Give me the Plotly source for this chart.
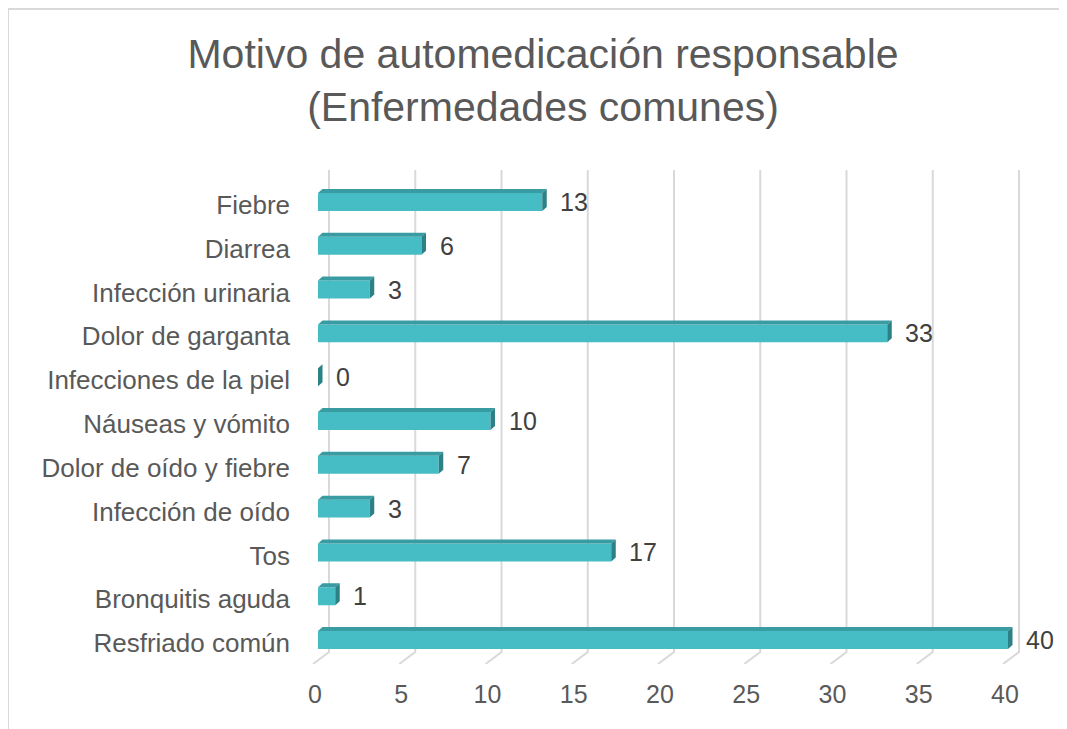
import plotly.graph_objects as go

# ---- data ----
categories = ["Fiebre", "Diarrea", "Infección urinaria", "Dolor de garganta",
              "Infecciones de la piel", "Náuseas y vómito", "Dolor de oído y fiebre",
              "Infección de oído", "Tos", "Bronquitis aguda", "Resfriado común"]
values = [13, 6, 3, 33, 0, 10, 7, 3, 17, 1, 40]
x_ticks = [0, 5, 10, 15, 20, 25, 30, 35, 40]
title_text = "Motivo de automedicación responsable<br>(Enfermedades comunes)"

# ---- geometry / style (screen px; page has an 8px body margin) ----
OFF = 8
W, H = 1067 - OFF, 729 - OFF
PX = 17.25            # pixels per unit
X0F = 318             # front plane zero (px)
X0B = 329             # back plane zero (px)
GRID_TOP, FLOOR_BACK, FLOOR_FRONT = 170, 652, 664
BAR_TOP, BAR_BOT = 180, 662
FONT = "Liberation Sans, Arial, sans-serif"
TXT = "#595959"
FRONT = "#46BCC5"
TOPC = "#3A9CA3"
SIDE = "#2C8187"
GRID = "#D9D9D9"

def fx(p):
    return (p - OFF) / W

def fy(p):
    return 1 - (p - OFF) / H

n = len(categories)
pos = [n - 1 - i for i in range(n)]
slot_px = (BAR_BOT - BAR_TOP) / n
half = 0.205
dx = 4.5 / PX
dy = 4.0 / slot_px

fig = go.Figure()

# gridlines with floor ticks (back plane)
gx, gy = [], []
top_u = FLOOR_FRONT - GRID_TOP
back_u = FLOOR_FRONT - FLOOR_BACK
for t in x_ticks:
    gx += [t, t, t - 16 / PX, None]
    gy += [top_u, back_u, 0, None]
fig.add_trace(go.Scatter(x=gx, y=gy, mode="lines", line=dict(color=GRID, width=2),
                         xaxis="x", yaxis="y", hoverinfo="skip", showlegend=False))

# front faces
fig.add_trace(go.Bar(x=values, y=pos, orientation="h", width=2 * half,
                     marker=dict(color=FRONT, line=dict(width=0)),
                     xaxis="x2", yaxis="y2", showlegend=False, hoverinfo="x+y"))

# top faces and side faces
tx, ty, sx, sy = [], [], [], []
for v, k in zip(values, pos):
    if v > 0:
        tx += [0, v, v + dx, dx, 0, None]
        ty += [k + half, k + half, k + half + dy, k + half + dy, k + half, None]
    sx += [v, v + dx, v + dx, v, v, None]
    sy += [k + half, k + half + dy, k - half + dy, k - half, k + half, None]
fig.add_trace(go.Scatter(x=tx, y=ty, mode="lines", fill="toself", fillcolor=TOPC,
                         line=dict(width=0, color=TOPC), xaxis="x2", yaxis="y2",
                         hoverinfo="skip", showlegend=False))
fig.add_trace(go.Scatter(x=sx, y=sy, mode="lines", fill="toself", fillcolor=SIDE,
                         line=dict(width=0, color=SIDE), xaxis="x2", yaxis="y2",
                         hoverinfo="skip", showlegend=False))

# data labels
for v, k in zip(values, pos):
    fig.add_annotation(x=v, y=k, xref="x2", yref="y2", text=str(v), showarrow=False,
                       xanchor="left", yanchor="middle", xshift=16,
                       font=dict(family=FONT, size=25, color="#404040"))

fig.update_layout(
    width=W, height=H,
    margin=dict(l=0, r=0, t=0, b=0),
    paper_bgcolor="white", plot_bgcolor="rgba(0,0,0,0)",
    template="none",
    showlegend=False,
    title=dict(text=title_text, x=fx(543), xanchor="center", y=fy(68), yanchor="middle",
               font=dict(family=FONT, size=41, color=TXT)),
    xaxis=dict(domain=[fx(X0B - PX), fx(X0B + 41 * PX)], range=[-1, 41], visible=False,
               anchor="y", automargin=False),
    yaxis=dict(domain=[fy(FLOOR_FRONT), fy(GRID_TOP)], range=[0, top_u], visible=False,
               anchor="x", automargin=False),
    xaxis2=dict(domain=[fx(X0F), fx(X0F + 41 * PX)], range=[0, 41], anchor="y2",
                tickvals=x_ticks, showgrid=False, zeroline=False, showline=False,
                ticks="", ticklabelstandoff=15, ticklabelshift=-3, automargin=False,
                tickfont=dict(family=FONT, size=25, color=TXT)),
    yaxis2=dict(domain=[fy(BAR_BOT), fy(BAR_TOP)], range=[-0.5, n - 0.5], anchor="x2",
                tickvals=pos, ticktext=categories, showgrid=False, zeroline=False,
                showline=False, ticks="", ticklabelstandoff=27, ticklabelshift=3,
                automargin=False, tickfont=dict(family=FONT, size=26, color=TXT)),
    shapes=[
        dict(type="line", xref="paper", yref="paper", x0=fx(8), x1=fx(8), y0=0, y1=fy(9),
             line=dict(color=GRID, width=2)),
        dict(type="line", xref="paper", yref="paper", x0=fx(8), x1=1, y0=fy(9), y1=fy(9),
             line=dict(color=GRID, width=2)),
    ],
)

fig.write_html("out.html")
